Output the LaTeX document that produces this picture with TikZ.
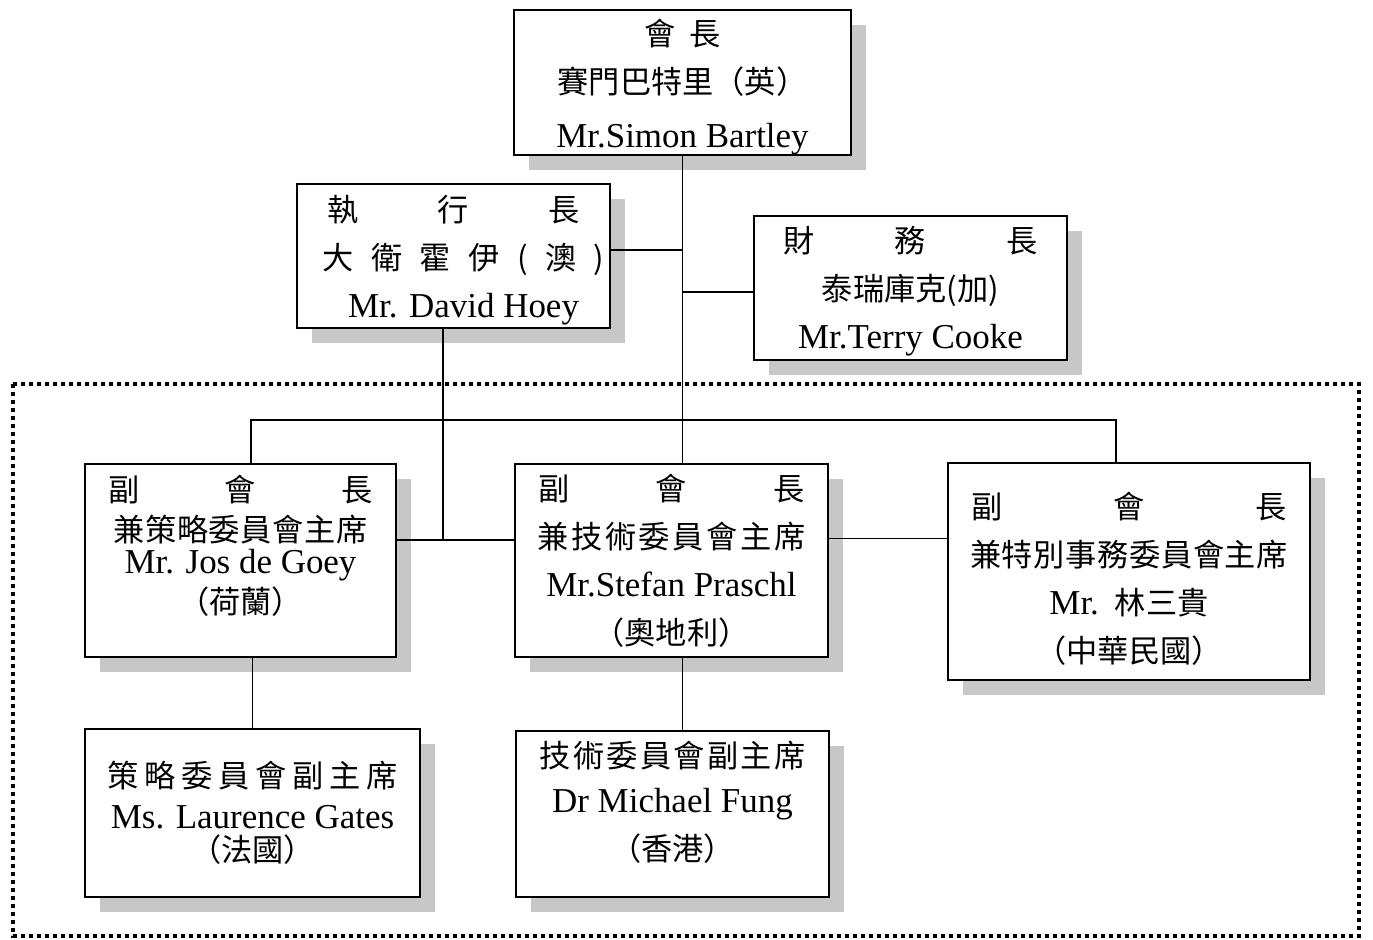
\documentclass[tikz,border=0pt]{standalone}
\usepackage{fontspec}
\setmainfont{Noto Sans CJK TC}
\newfontfamily\latin[Scale=1.12]{Liberation Serif}
\usetikzlibrary{shadows}

\tikzset{
  post/.style={draw, line width=1pt, fill=white, align=center, inner sep=0pt,
    font=\fontsize{15.6pt}{24pt}\selectfont,
    drop shadow={shadow xshift=7.5pt, shadow yshift=-7.5pt, fill=black!22, opacity=1}},
  link/.style={line width=0.9pt},
  frame/.style={line width=1.8pt, dash pattern=on 1.8pt off 2.2pt},
}

\begin{document}
\begin{tikzpicture}[x=0.5pt, y=-0.5pt]
	\useasboundingbox (0,0) rectangle (1373,939);
	\draw [frame] (13,384) rectangle (1359,936);

	\node [post, minimum width=168.5pt, minimum height=72.5pt] at (682.5, 82.5) (pres)
		{\rule{0pt}{17.3pt}\makebox[38.5pt]{會\hfill 長}\\ 賽門巴特里（英）\\[3pt] {\latin Mr.Simon Bartley}};
	\node [post, minimum width=156.5pt, minimum height=72pt] at (453.5, 256) (ceo)
		{\rule{0pt}{17.7pt}\makebox[126pt]{執\hfill 行\hfill 長}\\
		 \hspace*{10pt}\makebox[141pt]{大\hfill 衛\hfill 霍\hfill 伊\hfill (\hfill 澳\hfill )}\\
		 \hspace*{10pt}{\latin Mr. David Hoey}};
	\node [post, minimum width=156.5pt, minimum height=72pt] at (910.5, 288) (treas)
		{\rule{0pt}{16.7pt}\makebox[127pt]{財\hfill 務\hfill 長}\\ 泰瑞庫克(加)\\ {\latin Mr.Terry Cooke}};

	\node [post, minimum width=155.5pt, minimum height=96.5pt] at (240.5, 560.5) (vpl)
		{\makebox[132pt]{副\hfill 會\hfill 長}\\[-4pt]
		 \makebox[127pt]{兼\hfill 策\hfill 略\hfill 委\hfill 員\hfill 會\hfill 主\hfill 席}\\[-8pt]
		 {\latin Mr. Jos de Goey}\\[-4pt] （荷蘭）\\[-7.5pt] \mbox{}};
	\node [post, minimum width=156.5pt, minimum height=96.5pt] at (671.5, 560.5) (vpm)
		{\makebox[133pt]{副\hfill 會\hfill 長}\\
		 \makebox[134pt]{兼\hfill 技\hfill 術\hfill 委\hfill 員\hfill 會\hfill 主\hfill 席}\\
		 {\latin Mr.Stefan Praschl}\\ （奧地利）};
	\node [post, minimum width=181pt, minimum height=108.5pt] at (1129, 571.5) (vpr)
		{\rule{0pt}{20.5pt}\makebox[158pt]{副\hfill 會\hfill 長}\\
		 \makebox[159pt]{兼\hfill 特\hfill 別\hfill 事\hfill 務\hfill 委\hfill 員\hfill 會\hfill 主\hfill 席}\\
		 {\latin Mr.}\hspace{8pt}林三貴\\ （中華民國）};

	\node [post, minimum width=167.5pt, minimum height=84pt] at (252.5, 813) (subl)
		{\makebox[145pt]{策\hfill 略\hfill 委\hfill 員\hfill 會\hfill 副\hfill 主\hfill 席}\\[-3.5pt]
		 {\latin Ms. Laurence Gates}\\[-7.5pt] （法國）};
	\node [post, minimum width=156.5pt, minimum height=83pt] at (672.5, 814) (subm)
		{\makebox[133pt]{技\hfill 術\hfill 委\hfill 員\hfill 會\hfill 副\hfill 主\hfill 席}\\[-1.5pt]
		 {\latin Dr Michael Fung}\\ （香港）\\[-11pt] \mbox{}};

	\coordinate (busl) at (251, 420);
	\coordinate (busr) at (1116, 420);
	\coordinate (tie) at (443, 540);

	\draw [link] (pres.south) -- (pres.south |- vpm.north);
	\draw [link] ([yshift=3pt]ceo.east) -- ([yshift=3pt]ceo.east -| pres.south);
	\draw [link] ([yshift=-2pt]treas.west -| pres.south) -- ([yshift=-2pt]treas.west);
	\draw [link] (busl |- vpl.north) -- (busl) -- (busr) -- (busr |- vpr.north);
	\draw [link] (ceo.south -| tie) -- (tie);
	\draw [link] (vpl.east |- tie) -- (vpm.west |- tie);
	\draw [link] ([yshift=11pt]vpm.east) -- ([yshift=11pt]vpm.east -| vpr.west);
	\draw [link] (subl.north |- vpl.south) -- (subl.north);
	\draw [link] (vpm.south -| pres.south) -- (subm.north -| pres.south);
\end{tikzpicture}
\end{document}
